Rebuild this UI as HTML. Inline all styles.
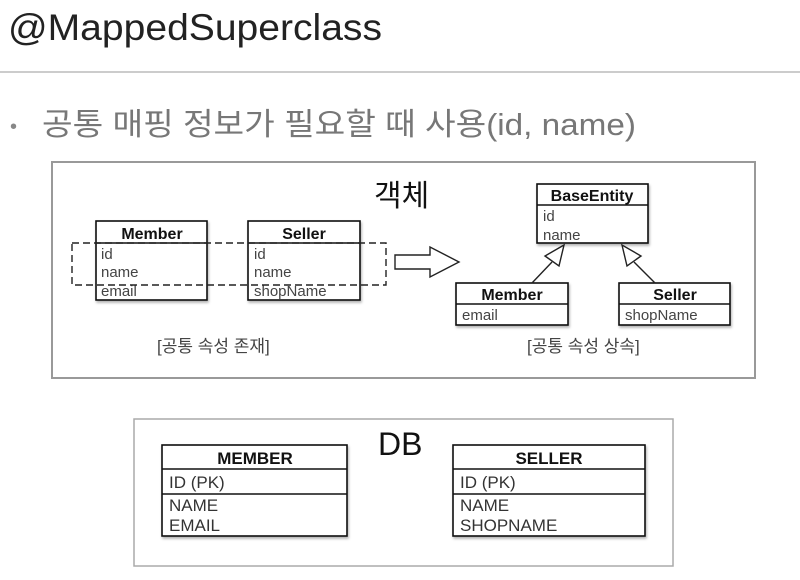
<!DOCTYPE html>
<html><head><meta charset="utf-8"><style>
html,body{margin:0;padding:0;background:#fff;width:800px;height:580px;overflow:hidden}
text{font-family:"Liberation Sans","Noto Sans CJK KR",sans-serif}
</style></head><body>
<svg width="800" height="580" xmlns="http://www.w3.org/2000/svg">
<defs><filter id="sh" x="-10%" y="-10%" width="130%" height="130%"><feDropShadow dx="1" dy="2" stdDeviation="1.2" flood-color="#000" flood-opacity="0.3"/></filter></defs>
<text x="8" y="40" font-size="37" fill="#222" textLength="374" lengthAdjust="spacingAndGlyphs">@MappedSuperclass</text>
<line x1="0" y1="72" x2="800" y2="72" stroke="#bbb" stroke-width="1.5"/>
<text x="10" y="133" font-size="20" fill="#888">•</text>
<text x="42" y="135" font-size="31" fill="#777" textLength="594" lengthAdjust="spacingAndGlyphs">공통 매핑 정보가 필요할 때 사용(id, name)</text>

<rect x="52" y="162" width="703" height="216" fill="none" stroke="#999" stroke-width="2"/>
<text x="374" y="206" font-size="30" fill="#111">객체</text>

<g stroke="#111" stroke-width="1.6" fill="#fff" filter="url(#sh)">
<rect x="96" y="221" width="111" height="79"/>
<rect x="248" y="221" width="112" height="79"/>
<rect x="537" y="184" width="111" height="59"/>
<rect x="456" y="283" width="112" height="42"/>
<rect x="619" y="283" width="111" height="42"/>
</g>
<g stroke="#111" stroke-width="1.6">
<line x1="96" y1="243" x2="207" y2="243"/>
<line x1="248" y1="243" x2="360" y2="243"/>
<line x1="537" y1="205" x2="648" y2="205"/>
<line x1="456" y1="304" x2="568" y2="304"/>
<line x1="619" y1="304" x2="730" y2="304"/>
</g>
<g font-size="16" fill="#111" font-weight="bold" text-anchor="middle">
<text x="152" y="239">Member</text>
<text x="304" y="239">Seller</text>
<text x="592" y="201">BaseEntity</text>
<text x="512" y="300">Member</text>
<text x="675" y="300">Seller</text>
</g>
<g font-size="15" fill="#444">
<text x="101" y="259">id</text><text x="101" y="277">name</text><text x="101" y="296">email</text>
<text x="254" y="259">id</text><text x="254" y="277">name</text><text x="254" y="296">shopName</text>
<text x="543" y="221">id</text><text x="543" y="240">name</text>
<text x="462" y="320">email</text>
<text x="625" y="320">shopName</text>
</g>
<rect x="72" y="243" width="314" height="42" fill="none" stroke="#222" stroke-width="1.4" stroke-dasharray="7,4"/>
<polygon points="395,255 430,255 430,247 459,262 430,277 430,269 395,269" fill="#fff" stroke="#222" stroke-width="1.4"/>
<g stroke="#222" stroke-width="1.4" fill="#fff">
<line x1="532" y1="283" x2="552" y2="262"/>
<polygon points="564,245 545,256 559,266"/>
<line x1="655" y1="283" x2="634" y2="262"/>
<polygon points="622,245 627,266 641,256"/>
</g>
<text x="157" y="352" font-size="17" fill="#444">[공통 속성 존재]</text>
<text x="527" y="352" font-size="17" fill="#444">[공통 속성 상속]</text>

<rect x="134" y="419" width="539" height="147" fill="none" stroke="#aaa" stroke-width="1.5"/>
<text x="378" y="455" font-size="32" fill="#111">DB</text>
<g stroke="#111" stroke-width="1.6" fill="#fff" filter="url(#sh)">
<rect x="162" y="445" width="185" height="91"/>
<rect x="453" y="445" width="192" height="91"/>
</g>
<g stroke="#111" stroke-width="1.6">
<line x1="162" y1="469" x2="347" y2="469"/><line x1="162" y1="494" x2="347" y2="494"/>
<line x1="453" y1="469" x2="645" y2="469"/><line x1="453" y1="494" x2="645" y2="494"/>
</g>
<g font-size="17" font-weight="bold" fill="#111" text-anchor="middle">
<text x="255" y="464">MEMBER</text><text x="549" y="464">SELLER</text>
</g>
<g font-size="17" fill="#333">
<text x="169" y="488">ID (PK)</text><text x="169" y="511">NAME</text><text x="169" y="531">EMAIL</text>
<text x="460" y="488">ID (PK)</text><text x="460" y="511">NAME</text><text x="460" y="531">SHOPNAME</text>
</g>
</svg>
</body></html>
